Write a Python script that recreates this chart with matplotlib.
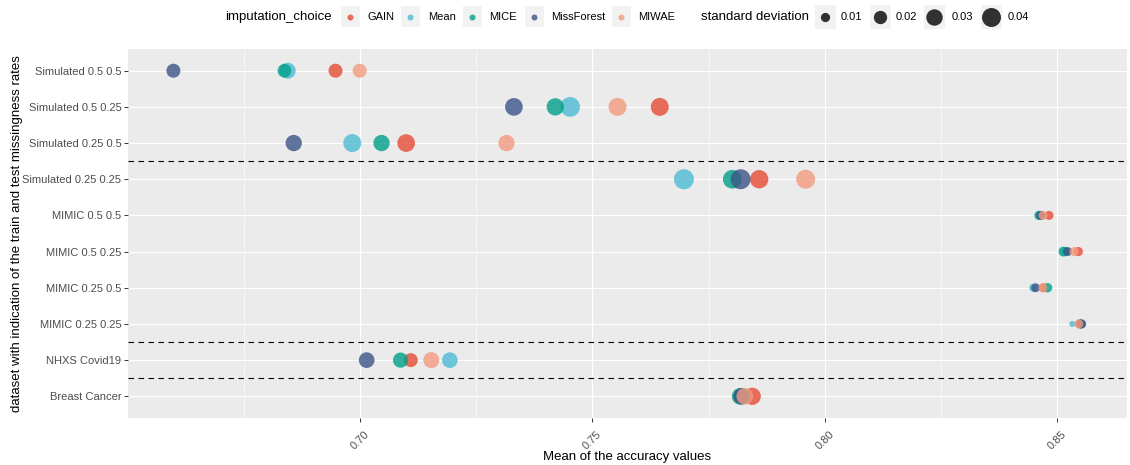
import matplotlib
matplotlib.use("Agg")
import matplotlib.pyplot as plt
from matplotlib.patches import Rectangle
import numpy as np

plt.rcParams["font.family"] = ["Liberation Sans", "DejaVu Sans"]

# datasets, listed top to bottom
datasets = ["Simulated 0.5 0.5", "Simulated 0.5 0.25", "Simulated 0.25 0.5",
            "Simulated 0.25 0.25", "MIMIC 0.5 0.5", "MIMIC 0.5 0.25",
            "MIMIC 0.25 0.5", "MIMIC 0.25 0.25", "NHXS Covid19", "Breast Cancer"]
methods = ["GAIN", "Mean", "MICE", "MissForest", "MIWAE"]
method_colors = ["#E64B35", "#4DBBD5", "#00A087", "#3C5488", "#F39B7F"]

# mean accuracy per dataset for each imputation method
acc_gain = [0.6947, 0.7645, 0.7099, 0.7859, 0.8483, 0.8546, 0.8471, 0.8549, 0.7109, 0.7844]
acc_mean = [0.6844, 0.7452, 0.6983, 0.7697, 0.8465, 0.8519, 0.8449, 0.8533, 0.7193, 0.7822]
acc_mice = [0.6837, 0.7420, 0.7046, 0.7801, 0.8461, 0.8514, 0.8480, 0.8551, 0.7087, 0.7818]
acc_missforest = [0.6598, 0.7331, 0.6857, 0.7819, 0.8465, 0.8523, 0.8454, 0.8553, 0.7014, 0.7821]
acc_miwae = [0.6999, 0.7554, 0.7315, 0.7959, 0.8470, 0.8537, 0.8470, 0.8547, 0.7153, 0.7828]

# standard deviation of the accuracy per dataset for each method
sd_gain = [0.0221, 0.0360, 0.0348, 0.0372, 0.0096, 0.0100, 0.0096, 0.0096, 0.0220, 0.0330]
sd_mean = [0.0286, 0.0429, 0.0360, 0.0442, 0.0096, 0.0096, 0.0080, 0.0047, 0.0275, 0.0300]
sd_mice = [0.0210, 0.0333, 0.0297, 0.0387, 0.0100, 0.0116, 0.0100, 0.0096, 0.0260, 0.0310]
sd_missforest = [0.0221, 0.0348, 0.0297, 0.0442, 0.0096, 0.0096, 0.0096, 0.0100, 0.0275, 0.0300]
sd_miwae = [0.0221, 0.0360, 0.0297, 0.0400, 0.0096, 0.0096, 0.0096, 0.0096, 0.0286, 0.0310]

size_breaks = [0.01, 0.02, 0.03, 0.04]
x_ticks = [0.70, 0.75, 0.80, 0.85]
group_separators = [2.5, 7.5, 8.5]

accs = [acc_gain, acc_mean, acc_mice, acc_missforest, acc_miwae]
sds = [sd_gain, sd_mean, sd_mice, sd_missforest, sd_miwae]

W, H, DPI = 1130, 465, 100


def sd_to_area(sd):
    """Marker area (pt^2) proportional to the standard deviation."""
    sd = np.asarray(sd, dtype=float)
    diam_px = np.sqrt(np.clip(-7 + 9200 * sd, 4, None))
    return (diam_px * 72 / DPI) ** 2


fig = plt.figure(figsize=(W / DPI, H / DPI), dpi=DPI)
fig.patch.set_facecolor("white")
ax = fig.add_axes([128 / W, 1 - 418 / H, (1127 - 128) / W, (418 - 49) / H])
ax.set_facecolor("#EBEBEB")
for s in ax.spines.values():
    s.set_visible(False)

y = np.arange(len(datasets))
for name, col, acc, sd in zip(methods, method_colors, accs, sds):
    ax.scatter(acc, y, s=sd_to_area(sd), color=col, alpha=0.8,
               linewidths=0, zorder=3, label=name)

for yy in group_separators:
    ax.axhline(yy, color="black", lw=0.8, ls=(0, (5, 4)), zorder=2)

all_acc = np.concatenate([np.asarray(a) for a in accs])
lo, hi = all_acc.min(), all_acc.max()
pad = 0.05 * (hi - lo)
ax.set_xlim(lo - pad, hi + pad)
ax.set_ylim(len(datasets) - 0.4, -0.6)

ax.set_xticks(x_ticks)
ax.set_xticks([0.675, 0.725, 0.775, 0.825], minor=True)
ax.set_xticklabels([f"{t:.2f}" for t in x_ticks], rotation=45,
                   ha="center", va="top")
ax.set_yticks(y)
ax.set_yticklabels(datasets)
ax.grid(True, which="major", color="white", lw=0.8, zorder=1)
ax.grid(True, which="minor", axis="x", color="white", lw=0.4, zorder=1)
ax.set_axisbelow(True)
ax.tick_params(axis="both", which="major", length=2.8, width=0.7,
               color="#333333", labelcolor="#4D4D4D", labelsize=8, pad=2)
ax.tick_params(axis="x", which="major", pad=5)
ax.tick_params(axis="both", which="minor", length=0)

ax.set_xlabel("Mean of the accuracy values", fontsize=9.5)
ax.xaxis.set_label_coords(0.5, -(451 - 418) / (418 - 49))
ax.set_ylabel("dataset with indication of the train and test missingness rates",
              fontsize=9.5)
ax.yaxis.set_label_coords(-(128 - 23) / (1127 - 128), 0.5)

# legends drawn along the top in pixel coordinates
lax = fig.add_axes([0, 0, 1, 1], zorder=5)
lax.set_xlim(0, W)
lax.set_ylim(H, 0)
lax.axis("off")
ly = 17
lax.text(225, ly, "imputation_choice", fontsize=9.5, ha="left", va="center")
key_x = [350, 410, 472, 534, 621]
lab_x = [367, 428, 489, 551, 638]
for kx, tx, name, col in zip(key_x, lab_x, methods, method_colors):
    lax.add_patch(Rectangle((kx - 9.5, ly - 10.5), 19, 21, color="#F2F2F2", lw=0))
    lax.scatter([kx], [ly], s=(6 * 72 / DPI) ** 2, color=col, alpha=0.8, linewidths=0)
    lax.text(tx, ly, name, fontsize=8, ha="left", va="center")

lax.text(701, ly, "standard deviation", fontsize=9.5, ha="left", va="center")
size_x = [825, 880, 934, 991]
size_lab_x = [841, 896, 952, 1008]
for kx, tx, b in zip(size_x, size_lab_x, size_breaks):
    lax.add_patch(Rectangle((kx - 10.5, ly - 12), 21, 24, color="#F2F2F2", lw=0))
    lax.scatter([kx], [ly], s=sd_to_area([b]), color="black", alpha=0.8, linewidths=0)
    lax.text(tx, ly, f"{b:.2f}", fontsize=8, ha="left", va="center")

fig.savefig("out.png", dpi=DPI)
